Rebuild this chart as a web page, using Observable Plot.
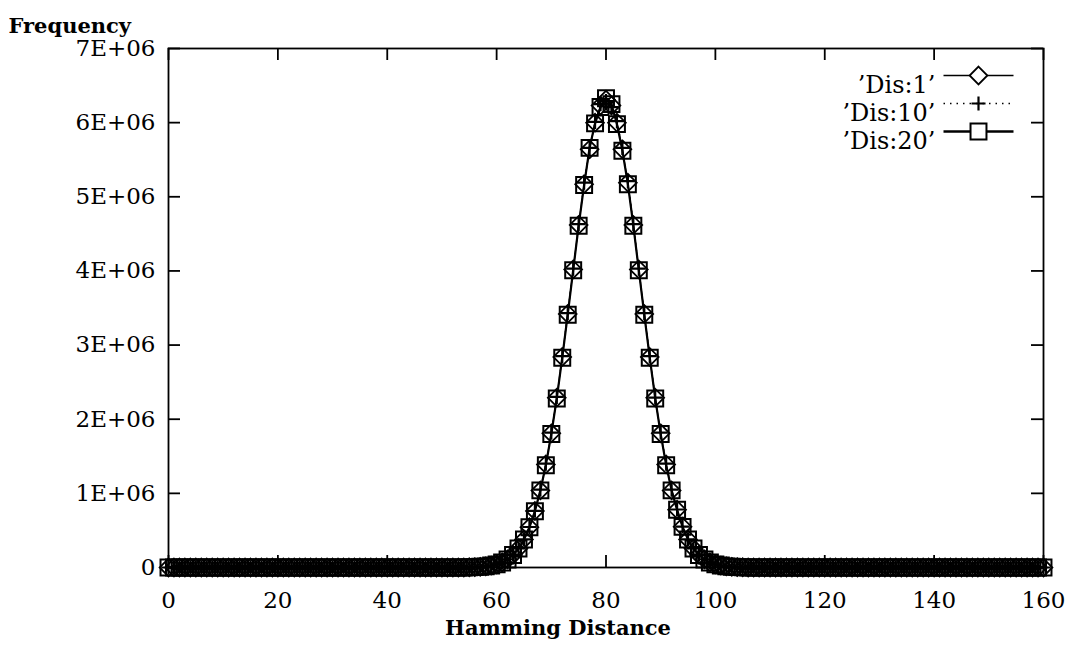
<!DOCTYPE html>
<html><head><meta charset="utf-8">
<script src="https://cdn.jsdelivr.net/npm/d3@7"></script>
<script src="https://cdn.jsdelivr.net/npm/@observablehq/plot@0.6"></script>
<style>body{margin:0;background:#fff}</style>
</head><body><div id="chart"></div>
<script>
// Hamming distance categories
const hamming = [0,1,2,3,4,5,6,7,8,9,10,11,12,13,14,15,16,17,18,19,20,21,22,23,24,25,26,27,28,29,30,31,32,33,34,35,36,37,38,39,40,41,42,43,44,45,46,47,48,49,50,51,52,53,54,55,56,57,58,59,60,61,62,63,64,65,66,67,68,69,70,71,72,73,74,75,76,77,78,79,80,81,82,83,84,85,86,87,88,89,90,91,92,93,94,95,96,97,98,99,100,101,102,103,104,105,106,107,108,109,110,111,112,113,114,115,116,117,118,119,120,121,122,123,124,125,126,127,128,129,130,131,132,133,134,135,136,137,138,139,140,141,142,143,144,145,146,147,148,149,150,151,152,153,154,155,156,157,158,159,160];
// Frequencies in units of 1E+06 (index = Hamming distance)
const dis1 = [0,0,0,0,0,0,0,0,0,0,0,0,0,0,0,0,0,0,0,0,0,0,0,0,0,0,0,0,0,0,0,0,0,0,0,0,0,0,0,0,0,0,0,0,0,0,0,0,0,0,0,0,0,0,0,
  0.003,0.005,0.009,0.015,0.026,0.043,0.069,0.110,0.170,0.257,0.379,0.544,0.763,1.04,1.39,1.81,2.29,2.84,3.42,4.02,4.62,5.17,5.64,6.00,6.23,
  6.31,
  6.23,6.00,5.64,5.19,4.62,4.02,3.42,2.84,2.29,1.81,1.39,1.04,0.780,0.550,0.379,0.257,0.170,0.110,0.069,0.043,0.026,0.015,0.009,0.005,0.003,
  0,0,0,0,0,0,0,0,0,0,0,0,0,0,0,0,0,0,0,0,0,0,0,0,0,0,0,0,0,0,0,0,0,0,0,0,0,0,0,0,0,0,0,0,0,0,0,0,0,0,0,0,0,0,0];
const dis10 = [0,0,0,0,0,0,0,0,0,0,0,0,0,0,0,0,0,0,0,0,0,0,0,0,0,0,0,0,0,0,0,0,0,0,0,0,0,0,0,0,0,0,0,0,0,0,0,0,0,0,0,0,0,0,0,
  0.003,0.005,0.009,0.015,0.026,0.043,0.069,0.111,0.171,0.258,0.380,0.546,0.765,1.05,1.40,1.82,2.30,2.85,3.43,4.03,4.63,5.19,5.66,6.01,6.25,
  6.29,
  6.21,6.02,5.66,5.21,4.63,4.03,3.43,2.85,2.29,1.82,1.40,1.05,0.782,0.552,0.380,0.258,0.171,0.111,0.069,0.043,0.026,0.015,0.009,0.005,0.003,
  0,0,0,0,0,0,0,0,0,0,0,0,0,0,0,0,0,0,0,0,0,0,0,0,0,0,0,0,0,0,0,0,0,0,0,0,0,0,0,0,0,0,0,0,0,0,0,0,0,0,0,0,0,0,0];
const dis20 = [0,0,0,0,0,0,0,0,0,0,0,0,0,0,0,0,0,0,0,0,0,0,0,0,0,0,0,0,0,0,0,0,0,0,0,0,0,0,0,0,0,0,0,0,0,0,0,0,0,0,0,0,0,0,0,
  0.003,0.005,0.009,0.015,0.026,0.042,0.068,0.109,0.169,0.256,0.378,0.542,0.760,1.04,1.38,1.80,2.28,2.83,3.41,4.01,4.61,5.16,5.66,5.99,6.21,
  6.33,
  6.25,5.98,5.62,5.17,4.61,4.01,3.41,2.83,2.28,1.80,1.38,1.04,0.778,0.548,0.378,0.256,0.169,0.109,0.068,0.042,0.026,0.015,0.009,0.005,0.003,
  0,0,0,0,0,0,0,0,0,0,0,0,0,0,0,0,0,0,0,0,0,0,0,0,0,0,0,0,0,0,0,0,0,0,0,0,0,0,0,0,0,0,0,0,0,0,0,0,0,0,0,0,0,0,0];
const seriesNames = ["\u2019Dis:1\u2019", "\u2019Dis:10\u2019", "\u2019Dis:20\u2019"];
const xTicks = [0,20,40,60,80,100,120,140,160];
const yTicks = [0,1e6,2e6,3e6,4e6,5e6,6e6,7e6];
const yTickLabels = ["0","1E+06","2E+06","3E+06","4E+06","5E+06","6E+06","7E+06"];
const xLabel = "Hamming Distance";
const yLabel = "Frequency";

const rows = (vals) => hamming.map((h, i) => ({h, f: vals[i] * 1e6}));
const d1 = rows(dis1), d10 = rows(dis10), d20 = rows(dis20);

const FONT = "DejaVu Serif";
const FS = 23;
const LFS = 24;
const lineSym = {draw(ctx) { ctx.moveTo(-35, 0); ctx.lineTo(35, 0); }};

const styles = [
  {symbol: "diamond2", r: 8, sw: 1.2, dash: null, msw: 1.8},
  {symbol: "plus", r: 4.6, sw: 1.2, dash: "1.5,5", msw: 2.2},
  {symbol: "square", r: 9, sw: 2.2, dash: null, msw: 2}
];
const datasets = [d1, d10, d20];

const marks = [];
datasets.forEach((d, k) => {
  const s = styles[k];
  marks.push(Plot.line(d, {x: "h", y: "f", stroke: "black", strokeWidth: s.sw, strokeDasharray: s.dash}));
  marks.push(Plot.dot(d, {x: "h", y: "f", symbol: s.symbol, r: s.r, stroke: "black", fill: "none", strokeWidth: s.msw}));
});
// legend (top-right inside the frame)
seriesNames.forEach((name, k) => {
  const s = styles[k];
  const dy = 27 + k * 28;
  marks.push(Plot.text([name], {frameAnchor: "top-right", textAnchor: "end", dx: -108, dy, fontSize: LFS, fill: "black"}));
  marks.push(Plot.dot([name], {frameAnchor: "top-right", dx: -65, dy, symbol: lineSym, stroke: "black", fill: "none", strokeWidth: s.sw + 0.3, strokeDasharray: s.dash}));
  marks.push(Plot.dot([name], {frameAnchor: "top-right", dx: -65, dy, symbol: s.symbol, r: s.r, stroke: "black", fill: "white", strokeWidth: s.msw}));
});

const chart = Plot.plot({
  width: 1069,
  height: 654,
  marginLeft: 168,
  marginRight: 26,
  marginTop: 48,
  marginBottom: 87,
  style: {fontFamily: FONT, fontSize: FS + "px", background: "white", color: "black"},
  x: {domain: [0, 160], label: null},
  y: {domain: [0, 7e6], label: null},
  marks: [
    ...marks,
    Plot.frame({stroke: "black", strokeWidth: 1.8}),
    // inward ticks, mirrored on all four sides
    Plot.ruleX(xTicks, {x: d => d, y1: 0, y2: 0, insetBottom: 12, stroke: "black", strokeWidth: 1.8}),
    Plot.ruleX(xTicks, {x: d => d, y1: 7e6, y2: 7e6, insetTop: 12, stroke: "black", strokeWidth: 1.8}),
    Plot.ruleY(yTicks, {y: d => d, x1: 0, x2: 0, insetRight: -12, stroke: "black", strokeWidth: 1.8}),
    Plot.ruleY(yTicks, {y: d => d, x1: 160, x2: 160, insetLeft: -12, stroke: "black", strokeWidth: 1.8}),
    Plot.axisX(xTicks, {anchor: "bottom", tickSize: 0, tickPadding: 24, fontSize: FS, label: null}),
    Plot.axisY(yTicks, {anchor: "left", tickSize: 0, tickPadding: 13, fontSize: FS, label: null,
      tickFormat: d => yTickLabels[yTicks.indexOf(d)]}),
    Plot.text([yLabel], {frameAnchor: "top-left", textAnchor: "start", dx: -160, dy: -30, fontSize: 21, fontWeight: "bold"}),
    Plot.text([xLabel], {frameAnchor: "bottom", dx: -48, dy: 67, fontSize: 21, fontWeight: "bold"})
  ]
});
document.getElementById("chart").appendChild(chart);
</script>
</body></html>
